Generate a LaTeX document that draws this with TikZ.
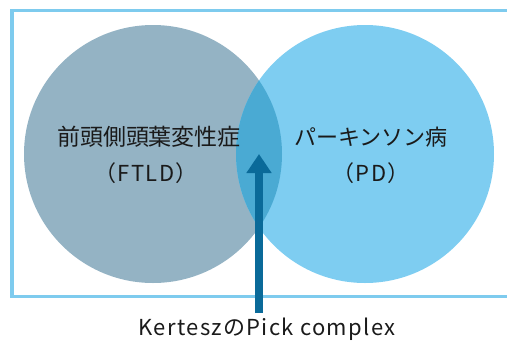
\documentclass[tikz,border=0pt]{standalone}
\usepackage{fontspec}
\setmainfont{Noto Sans CJK JP}
\newfontfamily\spacedfont[LetterSpace=6]{Noto Sans CJK JP}
\newfontfamily\latinlbl[LetterSpace=6]{Noto Sans CJK JP}
\usetikzlibrary{arrows.meta}
\definecolor{framec}{HTML}{7ECBEE}
\definecolor{leftc}{HTML}{94B3C4}
\definecolor{rightc}{HTML}{7ECDF1}
\definecolor{midc}{HTML}{4AAAD3}
\definecolor{arrowc}{HTML}{0A6A99}
\definecolor{textc}{HTML}{1A1A1A}
\tikzset{
  lbl/.style={text=textc, font=\fontsize{23}{27}\selectfont, inner sep=0pt},
  lblr/.style={text=textc, font=\fontsize{22}{26}\selectfont, inner sep=0pt},
  abbr/.style={text=textc, font=\latinlbl\fontsize{22}{26}\selectfont, inner sep=0pt},
  botlbl/.style={text=textc, font=\spacedfont\fontsize{22}{26}\selectfont, inner sep=0pt},
  pointer/.style={draw=arrowc, line width=8pt, -{Triangle[width=24pt,length=19pt]}}
}
\begin{document}
\begin{tikzpicture}[x=1pt,y=-1pt]
\useasboundingbox (0,0) rectangle (507,341);
\fill[leftc] (153,154) circle[radius=129];
\fill[rightc] (365,154) circle[radius=129];
\begin{scope}
  \clip (153,154) circle[radius=129];
  \fill[midc] (365,154) circle[radius=129];
\end{scope}
\draw[framec, line width=3.5pt] (12,10.5) rectangle (530,296.5);
\node[lbl] (ftld) at (149,137) {前頭側頭葉変性症};
\node[abbr] (ftldab) at (146,173) {（FTLD）};
\node[lblr] (pd) at (371,137) {パーキンソン病};
\node[abbr] (pdab) at (371,173) {（PD）};
\node[botlbl] (pick) at (267,329) {KerteszのPick complex};
\coordinate (base) at (259,313);
\coordinate (tip) at (259,154);
\draw[pointer] (base) -- (tip);
\end{tikzpicture}
\end{document}
